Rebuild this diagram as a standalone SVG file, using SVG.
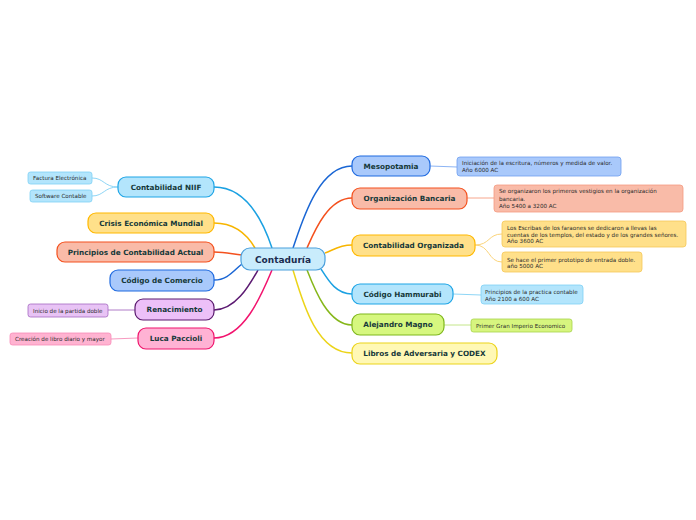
<svg xmlns="http://www.w3.org/2000/svg" width="696" height="520" viewBox="0 0 696 520">
<style>
.n{stroke-width:1.2}
.t{font-family:"DejaVu Sans",Verdana,sans-serif;font-weight:bold;font-size:7.25px;fill:#16393a;text-anchor:middle}
.s{font-family:"DejaVu Sans",Verdana,sans-serif;font-size:5.6px;fill:#2a2a2a}
.c{fill:none;stroke-width:1.5}
.cn{fill:none;stroke-width:1}
.blue{fill:#a9c9fb;stroke:#1f6ae0}
.sky{fill:#b3e5fc;stroke:#1ea5e6}
.org{fill:#f9bba8;stroke:#f4511e}
.yel{fill:#ffe08a;stroke:#ffb800}
.pur{fill:#edc0f8;stroke:#5a1a6e}
.pnk{fill:#ffb2d4;stroke:#f0146c}
.lim{fill:#d6f77f;stroke:#7fb71c}
.pyl{fill:#fff8b5;stroke:#ecd31a}
</style>
<rect width="696" height="520" fill="#ffffff"/>
<g id="connectors">
<path class="c" stroke="#1ba1e2" d="M214,187 C245,187 262,218 272,248"/>
<path class="c" stroke="#f7b500" d="M214,223 C236,223 248,236 255,248"/>
<path class="c" stroke="#f4511e" d="M214,252 C226,252 232,254 242,255"/>
<path class="c" stroke="#1a66d4" d="M214,280 C228,280 234,270 242,264"/>
<path class="c" stroke="#5c1a72" d="M214,310 C236,310 250,284 258,270"/>
<path class="c" stroke="#f2136e" d="M214,338 C244,338 262,294 272,270"/>
<path class="c" stroke="#1a66d4" d="M352,166 C318,166 302,222 293,248"/>
<path class="c" stroke="#f4511e" d="M352,198 C328,198 314,232 307,248"/>
<path class="c" stroke="#f7b500" d="M352,245 C338,245 332,251 325,253"/>
<path class="c" stroke="#1ba1e2" d="M352,294 C336,294 328,280 321,269"/>
<path class="c" stroke="#86b71a" d="M352,325 C328,325 314,288 307,270"/>
<path class="c" stroke="#ecd419" d="M352,353 C316,353 302,300 293,270"/>
<path class="cn" stroke="#8ed6f6" d="M118,187 C104,187 104,178 92,178"/>
<path class="cn" stroke="#8ed6f6" d="M118,187 C104,187 104,196 92,196"/>
<path class="cn" stroke="#b07cc8" d="M135,310 L108,310"/>
<path class="cn" stroke="#f79ac0" d="M138,338 L111,339"/>
<path class="cn" stroke="#8cb4f4" d="M430,166 L457,167"/>
<path class="cn" stroke="#f7a68c" d="M467,198 L494,198"/>
<path class="cn" stroke="#fbd47a" d="M475,245 C490,245 488,234 502,234"/>
<path class="cn" stroke="#fbd47a" d="M475,245 C490,245 488,262 502,262"/>
<path class="cn" stroke="#8ed6f6" d="M453,294 L481,295"/>
<path class="cn" stroke="#c4e68a" d="M444,325 L471,325"/>
</g>
<g id="center">
<rect x="241" y="248" width="84" height="22" rx="9" fill="#c9ecfc" stroke="#4a9fdc" stroke-width="1.2"/>
<text x="283" y="262.5" style="font-family:'DejaVu Sans',Verdana,sans-serif;font-weight:bold;font-size:9px;fill:#1a2b4f;text-anchor:middle">Contaduría</text>
</g>
<g id="niif">
<rect class="n sky" x="118" y="177" width="96" height="20" rx="8"/>
<text class="t" x="166" y="189.7">Contabilidad NIIF</text>
</g>
<g id="factura">
<rect x="28" y="172" width="64" height="12" rx="2.5" fill="#b3e5fc" stroke="#7fd0f5" stroke-width="0.8"/>
<text class="s" x="33" y="180">Factura Electrónica</text>
</g>
<g id="software">
<rect x="30" y="190" width="62" height="12" rx="2.5" fill="#b3e5fc" stroke="#7fd0f5" stroke-width="0.8"/>
<text class="s" x="35" y="198">Software Contable</text>
</g>
<g id="crisis">
<rect class="n yel" x="88" y="213" width="126" height="20" rx="8"/>
<text class="t" x="151" y="225.7">Crisis Económica Mundial</text>
</g>
<g id="principios">
<rect class="n org" x="57" y="242" width="157" height="20" rx="8"/>
<text class="t" x="135.5" y="254.7">Principios de Contabilidad Actual</text>
</g>
<g id="comercio">
<rect class="n blue" x="110" y="270" width="104" height="21" rx="8"/>
<text class="t" x="162" y="283.2">Código de Comercio</text>
</g>
<g id="renacimiento">
<rect class="n pur" x="135" y="299" width="79" height="21" rx="8"/>
<text class="t" x="174.5" y="312.2">Renacimiento</text>
</g>
<g id="inicio">
<rect x="28" y="304" width="80" height="13" rx="2.5" fill="#e8c3f5" stroke="#a368c0" stroke-width="0.8"/>
<text class="s" x="33" y="312.5">Inicio de la partida doble</text>
</g>
<g id="luca">
<rect class="n pnk" x="138" y="328" width="76" height="21" rx="8"/>
<text class="t" x="176" y="341.2">Luca Paccioli</text>
</g>
<g id="creacion">
<rect x="10" y="333" width="101" height="12" rx="2.5" fill="#ffb3d1" stroke="#f78cb8" stroke-width="0.8"/>
<text class="s" x="15" y="341">Creación de libro diario y mayor</text>
</g>
<g id="mesopotamia">
<rect class="n blue" x="352" y="156" width="78" height="20" rx="8"/>
<text class="t" x="391" y="168.7">Mesopotamia</text>
</g>
<g id="meso-note">
<rect x="457" y="157" width="164" height="19" rx="3" fill="#a9c9fb" stroke="#6f9ff0" stroke-width="0.8"/>
<text class="s" x="462" y="165">Iniciación de la escritura, números y medida de valor.</text>
<text class="s" x="462" y="172">Año 6000 AC</text>
</g>
<g id="bancaria">
<rect class="n org" x="352" y="188" width="115" height="21" rx="8"/>
<text class="t" x="409.5" y="201.2">Organización Bancaria</text>
</g>
<g id="bancaria-note">
<rect x="494" y="185" width="189" height="27" rx="3" fill="#f9bba8" stroke="#f59b80" stroke-width="0.8"/>
<text class="s" x="499" y="193">Se organizaron los primeros vestigios en la organización</text>
<text class="s" x="499" y="200.5">bancaria.</text>
<text class="s" x="499" y="208">Año 5400 a 3200 AC</text>
</g>
<g id="organizada">
<rect class="n yel" x="352" y="235" width="123" height="21" rx="8"/>
<text class="t" x="413.5" y="248.2">Contabilidad Organizada</text>
</g>
<g id="escribas">
<rect x="502" y="221" width="184" height="26" rx="3" fill="#ffe08a" stroke="#f5c858" stroke-width="0.8"/>
<text class="s" x="507" y="230">Los Escribas de los faraones se dedicaron a llevas las</text>
<text class="s" x="507" y="236.5">cuentas de los templos, del estado y de los grandes señores.</text>
<text class="s" x="507" y="243">Año 3600 AC</text>
</g>
<g id="prototipo">
<rect x="502" y="252" width="140" height="20" rx="3" fill="#ffe08a" stroke="#f5c858" stroke-width="0.8"/>
<text class="s" x="507" y="261.5">Se hace el primer prototipo de entrada doble.</text>
<text class="s" x="507" y="268">año 5000 AC</text>
</g>
<g id="hammurabi">
<rect class="n sky" x="352" y="284" width="101" height="20" rx="8"/>
<text class="t" x="402.5" y="296.7">Código Hammurabi</text>
</g>
<g id="hammurabi-note">
<rect x="481" y="285" width="102" height="19" rx="3" fill="#b3e5fc" stroke="#7fd0f5" stroke-width="0.8"/>
<text class="s" x="485" y="294">Principios de la practica contable</text>
<text class="s" x="485" y="300.5">Año 2100 a 600 AC</text>
</g>
<g id="alejandro">
<rect class="n lim" x="352" y="314" width="92" height="21" rx="8"/>
<text class="t" x="398" y="327.2">Alejandro Magno</text>
</g>
<g id="alejandro-note">
<rect x="471" y="319" width="101" height="13" rx="2.5" fill="#d7f57f" stroke="#a6d34a" stroke-width="0.8"/>
<text class="s" x="476" y="327.5">Primer Gran Imperio Economico</text>
</g>
<g id="libros">
<rect class="n pyl" x="352" y="343" width="145" height="21" rx="8"/>
<text class="t" x="424.5" y="356.2">Libros de Adversaria y CODEX</text>
</g>
</svg>
